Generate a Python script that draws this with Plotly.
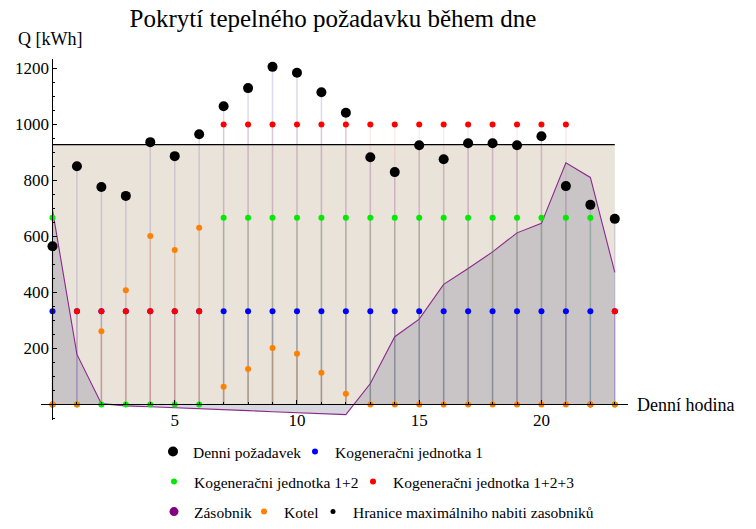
import plotly.graph_objects as go

hours = list(range(24))
demand = [565, 851, 777, 745, 937, 887, 965, 1065, 1130, 1206, 1185, 1115,
          1042, 883, 830, 926, 876, 933, 933, 926, 958, 780, 713, 663]
kog1 = [333] * 24
kog12 = [667, 0, 0, 0, 0, 0, 0, 667, 667, 667, 667, 667,
         667, 667, 667, 667, 667, 667, 667, 667, 667, 667, 667, 0]
kog123 = [0, 333, 333, 333, 333, 333, 333, 1000, 1000, 1000, 1000, 1000,
          1000, 1000, 1000, 1000, 1000, 1000, 1000, 1000, 1000, 1000, 0, 333]
zasobnik = [695, 179, 3, -5, -8, -11, -14, -18, -22, -26, -29, -32,
            -36, 75, 242, 305, 429, 486, 545, 613, 647, 863, 811, 472]
kotel = [0, 0, 262, 408, 602, 552, 631, 63, 127, 202, 181, 113,
         38, 0, 0, 0, 0, 0, 0, 0, 0, 0, 0, 0]
hranice_value = 928
hranice = [hranice_value] * 24

y_tick_vals = [200, 400, 600, 800, 1000, 1200]
y_minor_vals = [v for v in range(-50, 1250, 50) if v % 200 != 0]
x_tick_vals = [5, 10, 15, 20]
x_minor_vals = [h for h in hours if h % 5 != 0]

FONT = "Liberation Serif"

W, H = 756, 529
L, T = 41, 59
R = W - 628
B = H - 420
plot_w = W - L - R
plot_h = H - T - B
x_rng = [-0.47, 23.54]
y_rng = [-55.4, 1234]
ypos = (0 - x_rng[0]) / (x_rng[1] - x_rng[0])
xpos = (0 - y_rng[0]) / (y_rng[1] - y_rng[0])


def stems(xs, ys):
    sx, sy = [], []
    for x, y in zip(xs, ys):
        sx += [x, x, None]
        sy += [0, y, None]
    return sx, sy


fig = go.Figure()

# Hranice area (beige)
fig.add_trace(go.Scatter(x=hours, y=hranice, mode="lines",
                         line=dict(color="rgba(0,0,0,0)", width=0),
                         fill="tozeroy", fillcolor="rgb(234,227,217)",
                         showlegend=False, hoverinfo="skip"))
# Zasobnik area
fig.add_trace(go.Scatter(x=hours, y=zasobnik, mode="lines",
                         line=dict(color="rgb(140,40,140)", width=1.1),
                         fill="tozeroy", fillcolor="rgba(148,150,170,0.38)",
                         showlegend=False, hoverinfo="skip"))

stem_styles = [
    (demand, "rgba(110,100,175,0.24)"),
    (kog1, "rgba(0,0,255,0.10)"),
    (kog12, "rgba(0,150,0,0.16)"),
    (kog123, "rgba(220,0,0,0.08)"),
    (kotel, "rgba(255,128,0,0.18)"),
]
for vals, col in stem_styles:
    sx, sy = stems(hours, vals)
    fig.add_trace(go.Scatter(x=sx, y=sy, mode="lines",
                             line=dict(color=col, width=1.5),
                             showlegend=False, hoverinfo="skip"))

# Hranice line on top of stems
fig.add_trace(go.Scatter(x=hours, y=hranice, mode="lines",
                         line=dict(color="black", width=1.2),
                         showlegend=False, hoverinfo="skip"))

fig.add_trace(go.Scatter(x=hours, y=demand, mode="markers", name="Denni požadavek",
                         marker=dict(color="black", size=10), cliponaxis=False,
                         legend="legend"))
fig.add_trace(go.Scatter(x=hours, y=kog1, mode="markers", name="Kogeneračni jednotka 1",
                         marker=dict(color="rgb(0,0,255)", size=6), cliponaxis=False,
                         legend="legend2"))
fig.add_trace(go.Scatter(x=hours, y=kog12, mode="markers", name="Kogeneračni jednotka 1+2",
                         marker=dict(color="rgb(0,235,0)", size=6), cliponaxis=False,
                         legend="legend3"))
fig.add_trace(go.Scatter(x=hours, y=kog123, mode="markers", name="Kogeneračni jednotka 1+2+3",
                         marker=dict(color="rgb(255,0,0)", size=6), cliponaxis=False,
                         legend="legend4"))
fig.add_trace(go.Scatter(x=[None], y=[None], mode="markers", name="Zásobnik",
                         marker=dict(color="rgb(128,0,128)", size=9),
                         legend="legend5"))
fig.add_trace(go.Scatter(x=hours, y=kotel, mode="markers", name="Kotel",
                         marker=dict(color="rgb(255,128,0)", size=6), cliponaxis=False,
                         legend="legend6"))
fig.add_trace(go.Scatter(x=[None], y=[None], mode="markers",
                         name="Hranice maximálniho nabiti zasobniků",
                         marker=dict(color="black", size=5),
                         legend="legend7"))

legend_common = dict(orientation="h", xref="container", yref="container",
                     xanchor="left", yanchor="middle",
                     font=dict(family=FONT, size=15.5, color="black"),
                     bgcolor="rgba(0,0,0,0)", itemwidth=30, tracegroupgap=0)

legend_pos = {
    "legend": (153, 452), "legend2": (295, 452),
    "legend3": (154, 482), "legend4": (353, 482),
    "legend5": (154, 512), "legend6": (244, 512), "legend7": (313, 512),
}
legend_layout = {k: dict(legend_common, x=px / W, y=1 - py / H)
                 for k, (px, py) in legend_pos.items()}

fig.update_layout(
    width=W, height=H,
    margin=dict(l=L, r=R, t=T, b=B, autoexpand=False),
    paper_bgcolor="white", plot_bgcolor="white",
    font=dict(family=FONT, color="black"),
    title=dict(text="Pokrytí tepelného požadavku během dne",
               font=dict(family=FONT, size=25, color="black"),
               x=333 / W, xanchor="center", xref="container",
               y=1 - 18 / H, yanchor="middle", yref="container"),
    xaxis=dict(range=x_rng, anchor="free", position=xpos, automargin=False,
               showgrid=False, zeroline=False, showline=True,
               linecolor="black", linewidth=1,
               tickmode="array", tickvals=x_tick_vals,
               ticks="inside", ticklen=4, tickcolor="black",
               tickfont=dict(family=FONT, size=17, color="black"),
               minor=dict(tickmode="array", tickvals=x_minor_vals,
                          ticks="inside", ticklen=2, tickcolor="black")),
    yaxis=dict(range=y_rng, anchor="free", position=ypos, automargin=False,
               showgrid=False, zeroline=False, showline=True,
               linecolor="black", linewidth=1,
               tickmode="array", tickvals=y_tick_vals,
               ticks="inside", ticklen=4, tickcolor="black",
               tickfont=dict(family=FONT, size=17, color="black"),
               minor=dict(tickmode="array", tickvals=y_minor_vals,
                          ticks="inside", ticklen=2, tickcolor="black")),
    annotations=[
        dict(text="Q [kWh]", xref="paper", yref="paper",
             x=(16 - L) / plot_w, y=1 + (T - 39) / plot_h,
             xanchor="left", yanchor="middle", showarrow=False,
             font=dict(family=FONT, size=18, color="black")),
        dict(text="Denní hodina", xref="paper", yref="paper",
             x=(635 - L) / plot_w, y=((H - B) - 405) / plot_h,
             xanchor="left", yanchor="middle", showarrow=False,
             font=dict(family=FONT, size=18, color="black")),
    ],
    **legend_layout,
)

fig.write_html("out.html",
               config={"displayModeBar": False},
               post_script="document.body.style.margin='0';")
